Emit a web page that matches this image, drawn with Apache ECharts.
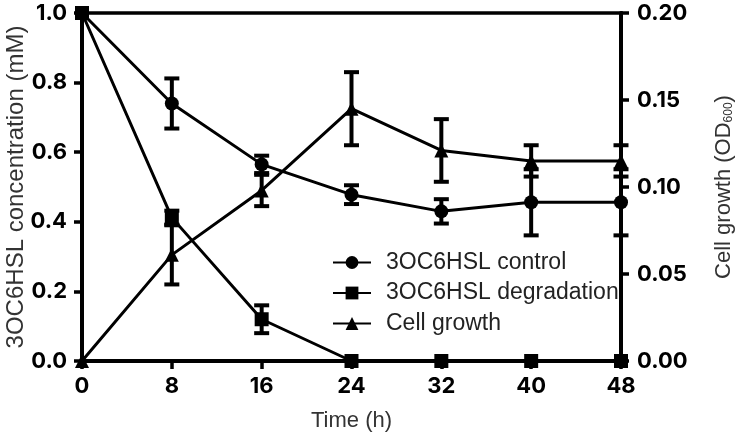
<!DOCTYPE html>
<html>
<head>
<meta charset="utf-8">
<script src="https://cdn.jsdelivr.net/npm/echarts@6/dist/echarts.min.js"></script>
<style>
html,body{margin:0;padding:0;background:#fff;}
#c{width:739px;height:437px;}
</style>
</head>
<body>
<div id="c"></div>
<script>
const time = [0, 8, 16, 24, 32, 40, 48];
const controlMean = [1.0, 0.74, 0.565, 0.478, 0.43, 0.456, 0.456];
const controlErr = [0, 0.072, 0.025, 0.027, 0.035, 0.095, 0.095];
const degMean = [1.0, 0.412, 0.12, 0, 0, 0, 0];
const degErr = [0, 0.02, 0.04, 0, 0, 0, 0];
const growthMean = [0, 0.061, 0.098, 0.145, 0.121, 0.115, 0.115];
const growthErr = [0, 0.017, 0.009, 0.021, 0.018, 0.009, 0.009];
const seriesNames = ['3OC6HSL control', '3OC6HSL degradation', 'Cell growth'];

const FONT = 'Liberation Sans, Arial, sans-serif';
const TICKFONT = 'Inter, Liberation Sans, Arial, sans-serif';

function pairs(m) { return time.map((t, i) => [t, m[i]]); }
function triples(m, e) { return time.map((t, i) => [t, m[i], e[i]]); }

function errRender(params, api) {
  const x = api.value(0), y = api.value(1), e = api.value(2);
  if (!e) return null;
  const top = api.coord([x, y + e]);
  const bot = api.coord([x, y - e]);
  const hw = 7.5;
  const st = { stroke: '#000', lineWidth: 4 };
  return {
    type: 'group',
    children: [
      { type: 'line', shape: { x1: top[0], y1: top[1], x2: bot[0], y2: bot[1] }, style: st },
      { type: 'line', shape: { x1: top[0] - hw, y1: top[1], x2: top[0] + hw, y2: top[1] }, style: st },
      { type: 'line', shape: { x1: bot[0] - hw, y1: bot[1], x2: bot[0] + hw, y2: bot[1] }, style: st }
    ]
  };
}

const lineBase = {
  type: 'line',
  symbolSize: 14,
  lineStyle: { color: '#000', width: 3 },
  itemStyle: { color: '#000' },
  z: 3
};

const tickLabel = { fontFamily: TICKFONT, fontSize: 22, fontWeight: 'bold', color: '#000' };

const chart = echarts.init(document.getElementById('c'), null, { renderer: 'canvas' });
chart.setOption({
  animation: false,
  backgroundColor: '#fff',
  grid: { left: 82, right: 118, top: 13, bottom: 76, outerBoundsMode: 'none', containLabel: false,
          show: true, borderColor: '#000', borderWidth: 3.5 },
  legend: {
    orient: 'vertical',
    left: 327,
    top: 246,
    itemWidth: 38,
    itemHeight: 16,
    itemGap: 7.5,
    data: seriesNames,
    textStyle: { fontFamily: FONT, fontSize: 23, color: '#222', padding: [0, 0, 0, 10] }
  },
  xAxis: {
    type: 'value', min: 0, max: 48, interval: 8,
    name: 'Time (h)', nameLocation: 'middle', nameGap: 49, nameMoveOverlap: false,
    nameTextStyle: { fontFamily: FONT, fontSize: 22, color: '#333' },
    axisLine: { lineStyle: { color: '#000', width: 4 } },
    axisTick: { length: 8, lineStyle: { color: '#000', width: 3.5 } },
    axisLabel: Object.assign({ margin: 14 }, tickLabel),
    splitLine: { show: false }
  },
  yAxis: [
    {
      type: 'value', min: 0, max: 1, interval: 0.2,
      name: '3OC6HSL concentration (mM)', nameLocation: 'middle', nameGap: 54, nameMoveOverlap: false,
      nameTextStyle: { fontFamily: FONT, fontSize: 24, color: '#333' },
      axisLine: { show: true, lineStyle: { color: '#000', width: 4 } },
      axisTick: { show: true, length: 8, lineStyle: { color: '#000', width: 3.5 } },
      axisLabel: Object.assign({ margin: 15, formatter: v => v.toFixed(1) }, tickLabel),
      splitLine: { show: false }
    },
    {
      type: 'value', min: 0, max: 0.2, interval: 0.05, position: 'right',
      name: '{n|Cell growth (OD}{s|600}{n|)}', nameLocation: 'middle', nameGap: 88, nameMoveOverlap: false,
      nameTextStyle: {
        fontFamily: FONT, fontSize: 22, color: '#333',
        rich: {
          n: { fontFamily: FONT, fontSize: 22, color: '#333', lineHeight: 26, verticalAlign: 'bottom' },
          s: { fontFamily: FONT, fontSize: 12, color: '#333', lineHeight: 26, verticalAlign: 'bottom' }
        }
      },
      axisLine: { show: true, lineStyle: { color: '#000', width: 4 } },
      axisTick: { show: true, length: 8, lineStyle: { color: '#000', width: 3.5 } },
      axisLabel: Object.assign({ margin: 16, formatter: v => v.toFixed(2) }, tickLabel),
      splitLine: { show: false }
    }
  ],
  series: [
    Object.assign({}, lineBase, { name: seriesNames[0], symbol: 'circle', yAxisIndex: 0, data: pairs(controlMean) }),
    Object.assign({}, lineBase, { name: seriesNames[1], symbol: 'rect', yAxisIndex: 0, data: pairs(degMean) }),
    Object.assign({}, lineBase, { name: seriesNames[2], symbol: 'triangle', yAxisIndex: 1, data: pairs(growthMean) }),
    { type: 'custom', name: 'err-control', yAxisIndex: 0, renderItem: errRender, data: triples(controlMean, controlErr), z: 4, silent: true },
    { type: 'custom', name: 'err-deg', yAxisIndex: 0, renderItem: errRender, data: triples(degMean, degErr), z: 4, silent: true },
    { type: 'custom', name: 'err-growth', yAxisIndex: 1, renderItem: errRender, data: triples(growthMean, growthErr), z: 4, silent: true }
  ]
});
</script>
</body>
</html>
